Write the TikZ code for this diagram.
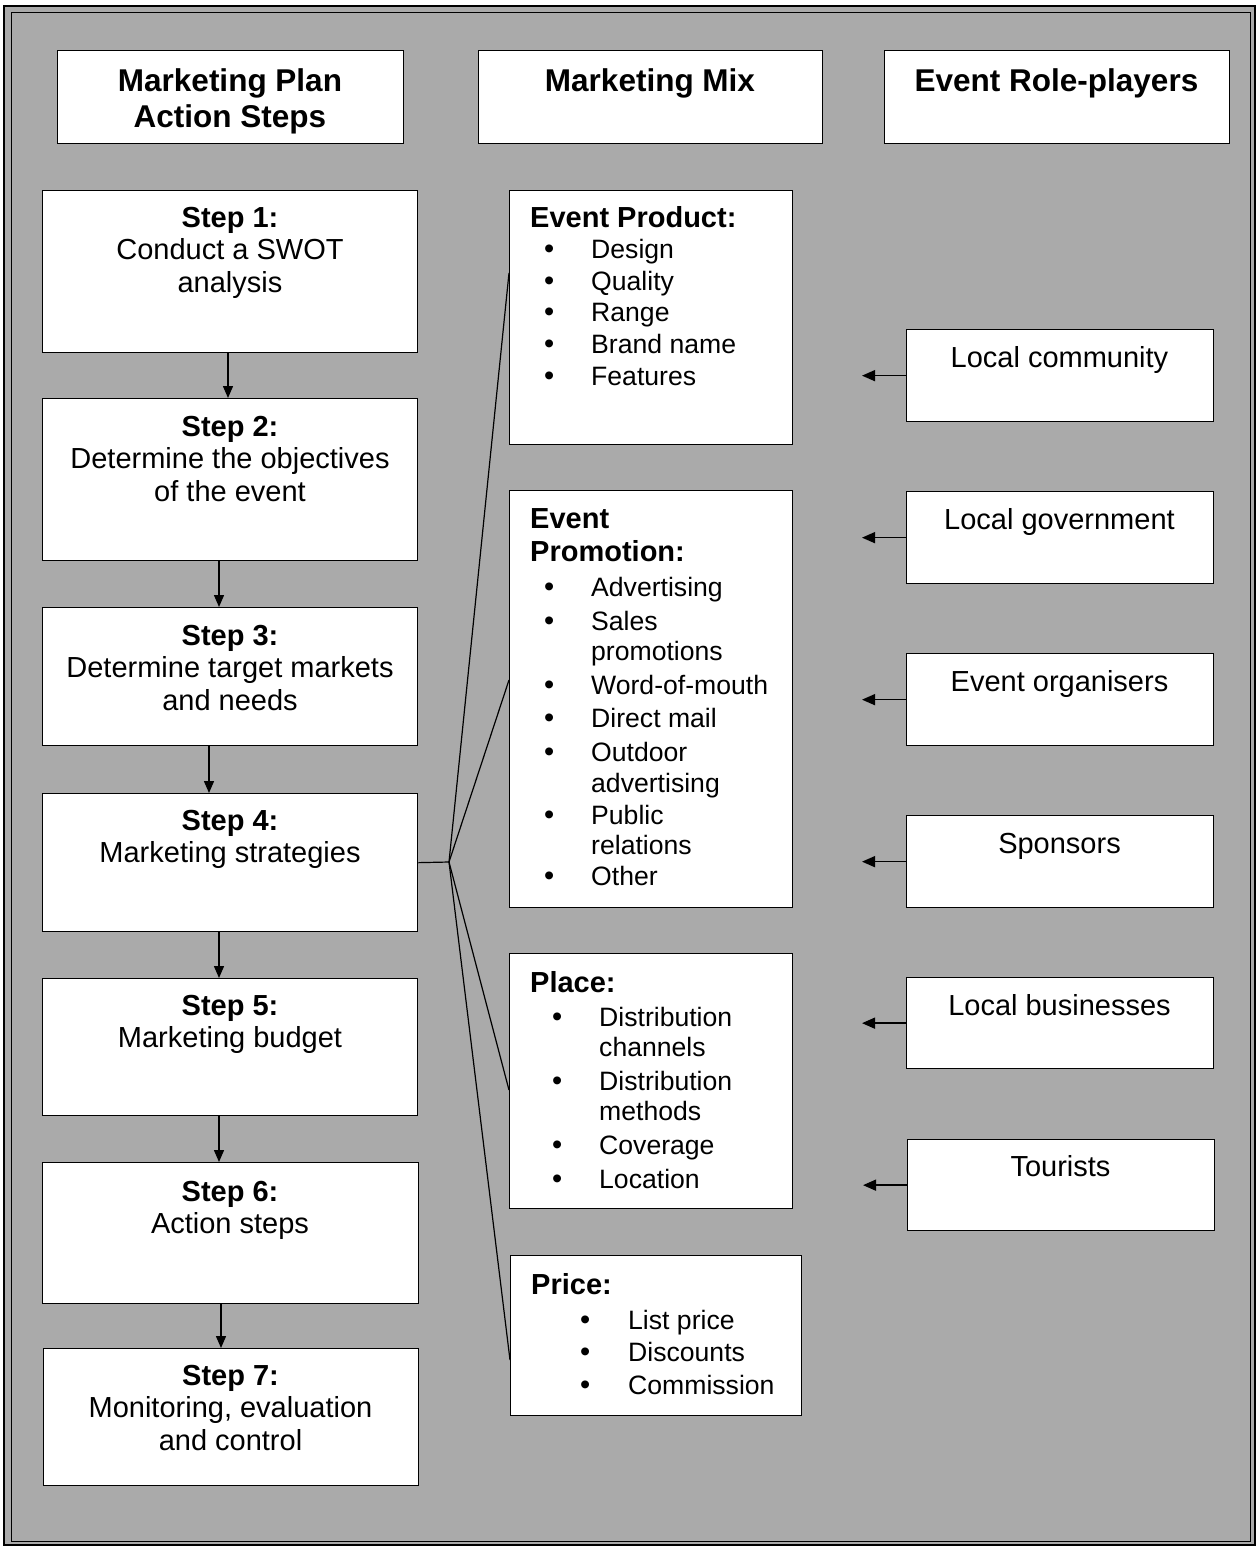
\documentclass[tikz,border=0pt]{standalone}
\usepackage{fontspec}
\usepackage{array}
\setmainfont{Liberation Sans}
\usetikzlibrary{arrows.meta}

\definecolor{sheet}{RGB}{170,170,170}

% type sizes
\newcommand\titlesize{\fontsize{31.5}{36}\selectfont\bfseries}
\newcommand\bodysize[1]{\fontsize{29}{#1}\selectfont}
\newcommand\listsize{\fontsize{26.6}{30}\selectfont}
% bullet cell: total width, offset of the dot
\newcommand\bul[2]{\makebox[#1pt][l]{\hspace*{#2pt}\textbullet}}
% white box by its top-left corner and size
\newcommand\panel[5]{\node[panelbox, minimum width=#4pt, minimum height=#5pt] (#1) at (#2,#3) {};}

\begin{document}
\begin{tikzpicture}[x=1pt,y=-1pt,
  panelbox/.style={draw=black, line width=1.3pt, fill=white, inner sep=0pt, anchor=north west},
  txt/.style={inner sep=0pt, text=black},
  flow/.style={draw=black, line width=1.4pt, -{Triangle[length=12pt,width=10pt]}},
  feed/.style={draw=black, line width=1.4pt, -{Triangle[length=13pt,width=11pt]}},
  link/.style={draw=black, line width=1.2pt}]

\useasboundingbox (0,0) rectangle (1258,1548);

% sheet and frame
\fill[sheet] (4,6) rectangle (1255,1545);
\draw[line width=1.2pt] (4,6) rectangle (1255,1545);
\draw[line width=0.8pt] (11,12) rectangle (1250,1541);

% column headers
\panel{hplan}{57}{50}{346}{93}
\panel{hmix}{478}{50}{344}{93}
\panel{hrole}{884}{50}{345}{93}
\node[txt, anchor=base] (hplan-t) at (230,91) {\titlesize\begin{tabular}[t]{@{}c@{}}Marketing Plan\\Action Steps\end{tabular}};
\node[txt, anchor=base] (hmix-t) at (650,91) {\titlesize Marketing Mix};
\node[txt, anchor=base] (hrole-t) at (1056.5,91) {\titlesize Event Role-players};

% action steps
\panel{s1}{42}{190}{375}{162}
\panel{s2}{42}{398}{375}{162}
\panel{s3}{42}{607}{375}{138}
\panel{s4}{42}{793}{375}{138}
\panel{s5}{42}{978}{375}{137}
\panel{s6}{42}{1162}{376}{141}
\panel{s7}{43}{1348}{375}{137}

\node[txt, anchor=base] (s1-t) at (230,227) {\bodysize{32.5}\begin{tabular}[t]{@{}c@{}}\textbf{Step 1:}\\Conduct a SWOT\\analysis\end{tabular}};
\node[txt, anchor=base] (s2-t) at (230,436) {\bodysize{32.5}\begin{tabular}[t]{@{}c@{}}\textbf{Step 2:}\\Determine the objectives\\of the event\end{tabular}};
\node[txt, anchor=base] (s3-t) at (230,645) {\bodysize{32.5}\begin{tabular}[t]{@{}c@{}}\textbf{Step 3:}\\Determine target markets\\and needs\end{tabular}};
\node[txt, anchor=base] (s4-t) at (230,830) {\bodysize{32.5}\begin{tabular}[t]{@{}c@{}}\textbf{Step 4:}\\Marketing strategies\end{tabular}};
\node[txt, anchor=base] (s5-t) at (230,1015) {\bodysize{32.5}\begin{tabular}[t]{@{}c@{}}\textbf{Step 5:}\\Marketing budget\end{tabular}};
\node[txt, anchor=base] (s6-t) at (230,1201) {\bodysize{32.5}\begin{tabular}[t]{@{}c@{}}\textbf{Step 6:}\\Action steps\end{tabular}};
\node[txt, anchor=base] (s7-t) at (230.5,1385) {\bodysize{32.5}\begin{tabular}[t]{@{}c@{}}\textbf{Step 7:}\\Monitoring, evaluation\\and control\end{tabular}};

\draw[flow] (s1.south -| 228,0) -- (s2.north -| 228,0);
\draw[flow] (s2.south -| 219,0) -- (s3.north -| 219,0);
\draw[flow] (s3.south -| 209,0) -- (s4.north -| 209,0);
\draw[flow] (s4.south -| 219,0) -- (s5.north -| 219,0);
\draw[flow] (s5.south -| 219,0) -- (s6.north -| 219,0);
\draw[flow] (s6.south -| 221,0) -- (s7.north -| 221,0);

% marketing mix
\panel{mprod}{509}{190}{283}{254}
\panel{mprom}{509}{490}{283}{417}
\panel{mplace}{509}{953}{283}{255}
\panel{mprice}{510}{1255}{291}{160}

\node[txt, anchor=base west] (mprod-t) at (530,227) {\bodysize{31.6}%
\begin{tabular}[t]{@{}l@{}>{\listsize}l@{}}
\multicolumn{2}{@{}l@{}}{\textbf{Event Product:}}\\
\bul{61}{14} & Design\\
\bul{61}{14} & Quality\\
\bul{61}{14} & Range\\
\bul{61}{14} & Brand name\\
\bul{61}{14} & Features
\end{tabular}};

\node[txt, anchor=base west] (mprom-t) at (530,528) {\bodysize{30.5}%
\begin{tabular}[t]{@{}l@{}>{\listsize}l@{}}
\multicolumn{2}{@{}l@{}}{\textbf{Event}}\\[2.5pt]
\multicolumn{2}{@{}l@{}}{\textbf{Promotion:}}\\[4.5pt]
\bul{61}{14} & Advertising\\[3.5pt]
\bul{61}{14} & Sales\\
 & promotions\\[3.5pt]
\bul{61}{14} & Word-of-mouth\\[2.5pt]
\bul{61}{14} & Direct mail\\[3.5pt]
\bul{61}{14} & Outdoor\\
 & advertising\\[1.5pt]
\bul{61}{14} & Public\\
 & relations\\[0.5pt]
\bul{61}{14} & Other
\end{tabular}};

\node[txt, anchor=base west] (mplace-t) at (530,992) {\bodysize{30}%
\begin{tabular}[t]{@{}l@{}>{\listsize}l@{}}
\multicolumn{2}{@{}l@{}}{\textbf{Place:}}\\[4pt]
\bul{69}{22} & Distribution\\
 & channels\\[4pt]
\bul{69}{22} & Distribution\\
 & methods\\[4pt]
\bul{69}{22} & Coverage\\[4pt]
\bul{69}{22} & Location
\end{tabular}};

\node[txt, anchor=base west] (mprice-t) at (531,1294) {\bodysize{32.5}%
\begin{tabular}[t]{@{}l@{}>{\listsize}l@{}}
\multicolumn{2}{@{}l@{}}{\textbf{Price:}}\\[2.5pt]
\bul{97}{49} & List price\\
\bul{97}{49} & Discounts\\
\bul{97}{49} & Commission
\end{tabular}};

% step 4 fans out to the mix
\coordinate (hub) at (449,862);
\draw[link] (s4.east) -- (hub);
\draw[link] (hub) -- (mprod.west |- 0,273);
\draw[link] (hub) -- (mprom.west |- 0,680);
\draw[link] (hub) -- (mplace.west |- 0,1090);
\draw[link] (hub) -- (mprice.west |- 0,1360);

% role-players
\panel{r1}{906}{329}{307}{92}
\panel{r2}{906}{491}{307}{92}
\panel{r3}{906}{653}{307}{92}
\panel{r4}{906}{815}{307}{92}
\panel{r5}{906}{977}{307}{91}
\panel{r6}{907}{1139}{307}{91}

\node[txt, anchor=base] (r1-t) at (1059.5,367) {\bodysize{32.5}Local community};
\node[txt, anchor=base] (r2-t) at (1059.5,529) {\bodysize{32.5}Local government};
\node[txt, anchor=base] (r3-t) at (1059.5,691) {\bodysize{32.5}Event organisers};
\node[txt, anchor=base] (r4-t) at (1059.5,853) {\bodysize{32.5}Sponsors};
\node[txt, anchor=base] (r5-t) at (1059.5,1015) {\bodysize{32.5}Local businesses};
\node[txt, anchor=base] (r6-t) at (1060.5,1176) {\bodysize{32.5}Tourists};

\foreach \r in {r1,r2,r3,r4,r5,r6}
  \draw[feed] (\r.west) -- ++(-44,0);

\end{tikzpicture}
\end{document}
